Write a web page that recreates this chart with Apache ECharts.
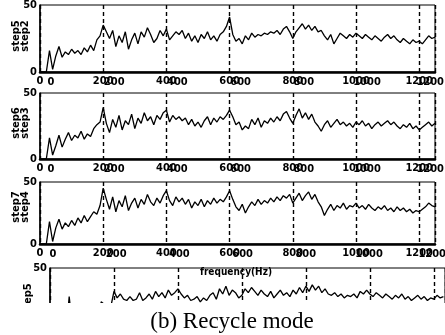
<!DOCTYPE html>
<html>
<head>
<meta charset="utf-8">
<script src="https://cdn.jsdelivr.net/npm/echarts@6/dist/echarts.min.js"></script>
<style>
  html, body { margin: 0; padding: 0; background: #fff; }
  #chart { width: 445px; height: 335px; }
</style>
</head>
<body>
<div id="chart"></div>
<script>
  const step2 = [
    0, 0, 0, 16, 2, 12, 19, 11, 15, 13,
    17, 14, 16, 13, 18, 15, 20, 16, 24, 27,
    35, 30, 25, 31, 19, 27, 22, 30, 17, 24,
    29, 21, 30, 26, 33, 28, 22, 25, 31, 27,
    32, 24, 27, 30, 28, 31, 25, 29, 23, 27,
    22, 28, 25, 30, 24, 27, 23, 28, 30, 34,
    41, 28, 23, 25, 21, 27, 24, 29, 26, 28,
    27, 29, 28, 30, 29, 31, 28, 32, 34, 30,
    25, 30, 33, 36, 32, 35, 31, 34, 30, 31,
    27, 24, 28, 21, 25, 29, 27, 25, 28, 26,
    29, 27, 25, 28, 26, 24, 27, 25, 23, 26,
    28, 25, 27, 24, 22, 25, 23, 21, 24, 22,
    23, 21, 24, 27, 25, 26
  ];
  const step3 = [
    0, 0, 0, 16, 3, 10, 18, 9, 15, 20,
    14, 18, 16, 21, 15, 19, 17, 23, 26, 28,
    39, 27, 20, 30, 24, 33, 22, 29, 26, 34,
    23, 31, 27, 35, 29, 32, 26, 33, 30, 35,
    37, 28, 33, 30, 32, 29, 31, 26, 30, 25,
    28, 24, 29, 32, 26, 31, 28, 32, 30, 33,
    37, 32, 26, 28, 22, 25, 23, 30, 26, 31,
    24, 29, 27, 31, 28, 32, 29, 34, 36, 31,
    27, 33, 38, 31, 35, 30, 34, 28, 25, 21,
    26, 29, 24, 27, 30, 26, 28, 25, 27, 24,
    28, 26, 29, 25, 27, 23, 26, 28, 25, 27,
    29, 26, 28, 25, 23, 26, 24, 27, 23, 25,
    22, 24, 26, 28, 25, 27
  ];
  const step4 = [
    0, 0, 0, 18, 2, 13, 20, 12, 17, 14,
    19, 15, 21, 17, 23, 18, 22, 26, 24, 31,
    45, 36, 28, 38, 26, 35, 30, 39, 27, 33,
    37, 29, 36, 32, 40, 34, 31, 37, 33, 39,
    43, 35, 31, 38, 34, 37, 32, 36, 29, 34,
    31, 36, 30, 35, 32, 37, 33, 36, 34, 38,
    43, 36, 30, 27, 32, 25, 30, 34, 31, 36,
    32, 35, 33, 37, 34, 38, 35, 39, 37, 40,
    33, 37, 41, 35, 39, 42, 36, 40, 34, 30,
    23, 28, 32, 27, 31, 29, 33, 28, 31, 30,
    33, 29, 31, 28, 32, 29, 27, 30, 28, 31,
    27, 29, 26, 30, 27, 29, 26, 28, 25, 27,
    26, 28, 30, 33, 31, 30
  ];
  const step5 = [
    0, 0, 0, 0, 0, 0, 28, 5, 0, 0,
    0, 0, 0, 0, 0, 0, 24, 22, 0, 20,
    32, 27, 30, 26, 25, 28, 25, 26, 31, 25,
    27, 30, 26, 32, 28, 31, 27, 33, 29, 31,
    34, 30, 27, 29, 25, 26, 28, 24, 27, 25,
    29, 31, 26, 34, 30, 36, 29, 33, 31, 27,
    29, 34, 31, 35, 32, 29, 33, 30, 28, 32,
    27, 30, 33, 29, 31, 28, 33, 30, 35, 31,
    36, 32, 37, 33, 36, 31, 34, 30, 29, 31,
    28, 30, 27, 29, 28, 30, 27, 32, 30, 33,
    30, 28, 31, 29, 27, 30, 28, 26, 29, 27,
    30, 26, 28, 25, 27, 29, 26, 28, 25, 27,
    26, 29, 27, 28
  ];
  const freqStep = 10;
  const xTicks = [0, 200, 400, 600, 800, 1000, 1200];
  // y titles of each panel, outer line first
  const yNames = [['step5', 'step2'], ['step6', 'step3'], ['step7', 'step4'], ['step5']];

  const font = '"Liberation Sans Narrow", "DejaVu Sans Condensed", sans-serif';

  // panel boxes (as measured on the scan)
  const panels = [
    { data: step2, left: 40, right: 10, top: 5, height: 67, max: 1250, shift: 11, labels: true, nameX: [16, 25], nameY: 36 },
    { data: step3, left: 40, right: 10, top: 93, height: 66, max: 1250, shift: 11, labels: true, nameX: [16, 25], nameY: 123 },
    { data: step4, left: 40, right: 10, top: 182, height: 62, max: 1250, shift: 13, labels: true, nameX: [16, 25], nameY: 207 },
    { data: step5, left: 50, right: 0, top: 268, height: 65, max: 1235, shift: 11, labels: false, nameX: [28], nameY: 299 }
  ];

  const labelStyle = {
    color: '#000',
    fontSize: 11,
    fontWeight: 'bold',
    fontFamily: font,
    formatter: v => String(v)
  };

  const grid = [];
  const xAxis = [];
  const yAxis = [];
  const series = [];
  const nameTexts = [];

  panels.forEach((p, i) => {
    grid.push({
      left: p.left, right: p.right, top: p.top, height: p.height,
      outerBoundsMode: 'none', containLabel: false,
      show: true, borderColor: '#000', borderWidth: 1
    });
    xAxis.push({
      gridIndex: i, type: 'value', position: 'bottom',
      min: 0, max: p.max, interval: 200,
      axisLine: { lineStyle: { color: '#000', width: 2.5 } },
      axisTick: { show: false },
      axisLabel: Object.assign({ show: p.labels, customValues: xTicks, margin: 4 }, labelStyle),
      splitLine: { show: true, lineStyle: { color: '#000', width: 1.4, type: [4, 3] } }
    });
    // the overlaid second plot's labels, printed slightly to the right
    xAxis.push({
      gridIndex: i, type: 'value', position: 'bottom',
      min: 0, max: p.max, interval: 200,
      axisLine: { show: false },
      axisTick: { show: false },
      splitLine: { show: false },
      axisLabel: Object.assign({
        show: p.labels, customValues: xTicks, margin: 5,
        padding: [0, 0, 0, p.shift * 2]
      }, labelStyle)
    });
    yAxis.push({
      gridIndex: i, type: 'value', min: 0, max: 50, interval: 50,
      axisLine: { show: true, lineStyle: { color: '#000', width: 1.5 } },
      axisTick: { show: false },
      splitLine: { show: false },
      axisLabel: Object.assign({ margin: 3 }, labelStyle)
    });
    series.push({
      type: 'line',
      xAxisIndex: i * 2,
      yAxisIndex: i,
      data: p.data.map((v, k) => [k * freqStep, v]),
      showSymbol: false,
      clip: true,
      lineStyle: { color: '#000', width: 1.3 }
    });
    yNames[i].forEach((txt, j) => {
      nameTexts.push({
        type: 'text', z: 50,
        x: p.nameX[j], y: p.nameY,
        rotation: Math.PI / 2,
        style: {
          text: txt,
          font: 'bold 10px "DejaVu Sans", sans-serif',
          fill: '#000',
          align: 'center', verticalAlign: 'middle',
          textAlign: 'center', textVerticalAlign: 'middle'
        }
      });
    });
  });

  const chart = echarts.init(document.getElementById('chart'), null, { renderer: 'canvas' });
  chart.setOption({
    animation: false,
    backgroundColor: '#fff',
    grid,
    xAxis,
    yAxis,
    series,
    graphic: nameTexts.concat([
      {
        type: 'rect', z: 100,
        shape: { x: 0, y: 303, width: 445, height: 32 },
        style: { fill: '#fff' }
      },
      {
        type: 'text', z: 101, x: 232, y: 322,
        style: {
          text: '(b) Recycle mode',
          font: '23px "Liberation Serif", "Times New Roman", serif',
          fill: '#000',
          align: 'center', verticalAlign: 'middle',
          textAlign: 'center', textVerticalAlign: 'middle'
        }
      },
      {
        type: 'text', z: 101, x: 236, y: 272,
        style: {
          text: 'frequency(Hz)',
          font: 'bold 10px ' + font,
          fill: '#000',
          align: 'center', verticalAlign: 'middle',
          textAlign: 'center', textVerticalAlign: 'middle'
        }
      }
    ])
  });
</script>
</body>
</html>
